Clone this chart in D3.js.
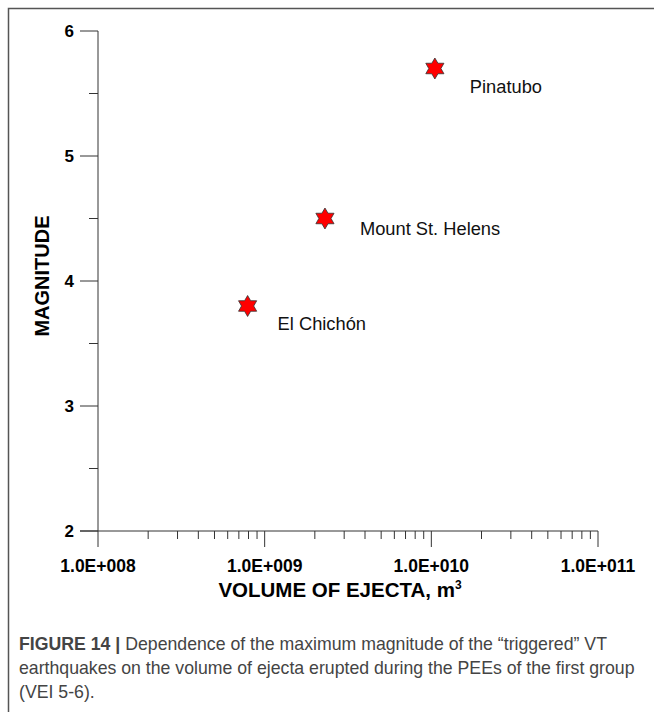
<!DOCTYPE html>
<html><head><meta charset="utf-8">
<script src="https://cdn.jsdelivr.net/npm/d3@7"></script>
<style>body{margin:0;background:#fff;font-family:"Liberation Sans",Arial,sans-serif}svg text{font-family:"Liberation Sans",Arial,sans-serif}</style>
</head><body>
<script>
const names = ["El Chichón", "Mount St. Helens", "Pinatubo"];
const volumes = [7.9e8, 2.3e9, 1.05e10];
const magnitudes = [3.8, 4.5, 5.7];
const xTickLabels = ["1.0E+008", "1.0E+009", "1.0E+010", "1.0E+011"];
const yTicks = [2, 3, 4, 5, 6];

const W = 654, H = 712;
const svg = d3.select("body").append("svg").attr("width", W).attr("height", H);
svg.append("path").attr("d", "M8.5,712 V8.5 H654").attr("fill", "none").attr("stroke", "#555").attr("stroke-width", 1.5);

const x = d3.scaleLog().domain([1e8, 1e11]).range([98, 598]);
const y = d3.scaleLinear().domain([2, 6]).range([531, 31]);
const g = svg.append("g");
const ax = "#333";
g.append("line").attr("x1", 98).attr("x2", 98).attr("y1", y(6)).attr("y2", y(2)).attr("stroke", ax);
g.append("line").attr("x1", 80).attr("x2", 598).attr("y1", y(2)).attr("y2", y(2)).attr("stroke", ax);
d3.range(2, 6.01, 0.5).forEach(v => {
  const major = Number.isInteger(v);
  g.append("line").attr("x1", major ? 80 : 89).attr("x2", 98).attr("y1", y(v)).attr("y2", y(v)).attr("stroke", ax);
});
yTicks.forEach(v => g.append("text").attr("x", 74).attr("y", y(v)).attr("dy", "0.35em")
  .attr("text-anchor", "end").attr("font-weight", "bold").attr("font-size", 17).text(v));
for (let e = 8; e <= 11; e++) {
  for (let m = 1; m <= 9; m++) {
    if (e === 11 && m > 1) break;
    const v = m * Math.pow(10, e);
    const major = m === 1;
    g.append("line").attr("x1", x(v)).attr("x2", x(v)).attr("y1", y(2)).attr("y2", y(2) + (major ? 16 : 8)).attr("stroke", ax);
  }
}
xTickLabels.forEach((t, i) => g.append("text").attr("x", x(Math.pow(10, 8 + i))).attr("y", 572)
  .attr("text-anchor", "middle").attr("font-weight", "bold").attr("font-size", 17.5).text(t));
const xt = g.append("text").attr("x", 340).attr("y", 597).attr("text-anchor", "middle")
  .attr("font-weight", "bold").attr("font-size", 20.5);
xt.append("tspan").text("VOLUME OF EJECTA, m");
xt.append("tspan").attr("font-size", 12).attr("dy", -8).text("3");
g.append("text").attr("transform", "translate(49,276) rotate(-90)").attr("text-anchor", "middle")
  .attr("font-weight", "bold").attr("font-size", 20).text("MAGNITUDE");
const star = d3.symbol().type({draw(ctx, size) {
  const R = Math.sqrt(size), r = R * 0.58;
  for (let i = 0; i < 12; i++) {
    const a = -Math.PI / 2 + i * Math.PI / 6, rr = i % 2 ? r : R;
    i ? ctx.lineTo(rr * Math.cos(a), rr * Math.sin(a)) : ctx.moveTo(rr * Math.cos(a), rr * Math.sin(a));
  }
  ctx.closePath();
}}).size(110);
const labelDy = [24, 16, 24];
names.forEach((n, i) => {
  g.append("path").attr("d", star).attr("transform", `translate(${x(volumes[i])},${y(magnitudes[i])})`)
    .attr("fill", "#ff0000").attr("stroke", "#333").attr("stroke-width", 0.8);
  g.append("text").attr("x", x(volumes[i]) + (i === 0 ? 30 : 35)).attr("y", y(magnitudes[i]) + labelDy[i])
    .attr("font-size", 18.3).attr("fill", "#111").text(n);
});
const cap = ["Dependence of the maximum magnitude of the “triggered” VT",
  "earthquakes on the volume of ejecta erupted during the PEEs of the first group",
  "(VEI 5-6)."];
const c = svg.append("g").attr("font-size", 17.7).attr("fill", "#444");
const t0 = c.append("text").attr("x", 19).attr("y", 650);
t0.append("tspan").attr("font-weight", "bold").text("FIGURE 14 | ");
t0.append("tspan").text(cap[0]);
c.append("text").attr("x", 19).attr("y", 674).text(cap[1]);
c.append("text").attr("x", 19).attr("y", 698).text(cap[2]);
</script>
</body></html>
